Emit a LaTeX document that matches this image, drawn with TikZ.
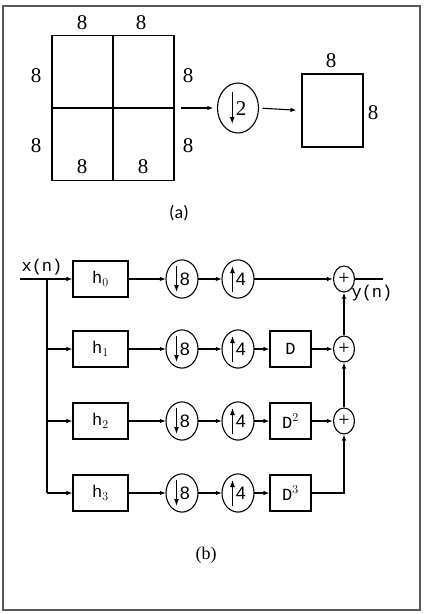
\documentclass[tikz,border=0pt]{standalone}
\usepackage{fontspec}
\setmainfont{Liberation Serif}
\setmonofont{Liberation Mono}
\newfontfamily\capfont{Carlito}
\newfontfamily\digfont{Liberation Sans}
\usetikzlibrary{arrows.meta,positioning,shapes.geometric}

% tall arrows inside the rate changers
\newcommand{\dnarr}[1]{\tikz[baseline=-0.34em]\draw[line width=1pt,-{Latex[length=7pt,width=5pt]}] (0pt,#1) -- (0pt,-#1);}
\newcommand{\uparr}[1]{\tikz[baseline=-0.34em]\draw[line width=1pt,-{Latex[length=7pt,width=5pt]}] (0pt,-#1) -- (0pt,#1);}

\begin{document}
\begin{tikzpicture}[
  x=1pt, y=-1pt,
  line width=1.1pt,
  >={Latex[length=6pt,width=4.5pt]},
  arr/.style={->},
  blk/.style={draw, rectangle, minimum width=55pt, minimum height=36pt, font=\fontsize{17}{17}\ttfamily},
  dblk/.style={draw, rectangle, minimum width=41pt, minimum height=36pt, font=\fontsize{17}{17}\ttfamily},
  rate/.style={draw, ellipse, minimum width=32pt, minimum height=37pt, inner sep=0pt, font=\fontsize{18}{18}\digfont},
  sumnode/.style={draw, ellipse, minimum width=21pt, minimum height=26pt, inner sep=0pt, font=\fontsize{20}{20}\selectfont},
  num/.style={font=\fontsize{21}{21}\selectfont},
  sig/.style={font=\fontsize{17}{17}\ttfamily},
]
\useasboundingbox (0,0) rectangle (424,614);
\fill[white] (0,0) rectangle (424,614);
\draw[black!65, line width=1.3pt] (3,6) rectangle (420,610);

% (a) block splitting
\node[draw, rectangle, minimum width=122pt, minimum height=145pt, inner sep=0pt] (blocks) at (113,108) {};
\draw (blocks.north) -- (blocks.south);
\draw (blocks.west) -- (blocks.east);
\node[draw, ellipse, minimum width=41pt, minimum height=50pt, inner sep=0pt, font=\fontsize{21}{21}\selectfont] (ds2) at (238,108) {\dnarr{16pt}\kern1pt 2};
\node[draw, rectangle, minimum width=61pt, minimum height=73pt, inner sep=0pt] (outblk) at (332.5,110.5) {};

\draw[arr, shorten <=6pt, shorten >=4pt] (blocks.east) -- (ds2.west);
\draw[arr, shorten <=4pt, shorten >=5pt] (ds2.east) -- (outblk.west);

\node[num] (ta) at (82,23) {8};
\node[num] (tb) at (141,23) {8};
\node[num] (la) at (36,76) {8};
\node[num] (lb) at (36,146) {8};
\node[num] (ra) at (188,76) {8};
\node[num] (rb) at (188,146) {8};
\node[num] (ba) at (82,167) {8};
\node[num] (bb) at (143,167) {8};
\node[num] (ot) at (331,61) {8};
\node[num] (or) at (373,113) {8};

\node[font=\fontsize{18}{18}\capfont] (capa) at (179,213) {(a)};

% (b) filter bank
\coordinate (xin) at (20,279);
\coordinate (br) at (47,279);
\coordinate (brend) at (47,493);
\coordinate (yout) at (383,279);

\node[blk] (h0) at (100.5,279) {h$_0$};
\node[blk] (h1) at (100.5,349) {h$_1$};
\node[blk] (h2) at (100.5,421) {h$_2$};
\node[blk] (h3) at (100.5,493) {h$_3$};

\node[rate] (dn0) at (182,279) {\dnarr{13pt}\kern1pt 8};
\node[rate] (dn1) at (182,349) {\dnarr{13pt}\kern1pt 8};
\node[rate] (dn2) at (182,421) {\dnarr{13pt}\kern1pt 8};
\node[rate] (dn3) at (182,493) {\dnarr{13pt}\kern1pt 8};

\node[rate] (up0) at (238,279) {\uparr{13pt}\kern1pt 4};
\node[rate] (up1) at (238,349) {\uparr{13pt}\kern1pt 4};
\node[rate] (up2) at (238,421) {\uparr{13pt}\kern1pt 4};
\node[rate] (up3) at (238,493) {\uparr{13pt}\kern1pt 4};

\node[dblk] (d1) at (290.5,349) {D};
\node[dblk] (d2) at (290.5,421) {D$^2$};
\node[dblk] (d3) at (290.5,493) {D$^3$};

\node[sumnode] (s0) at (344,279) {+};
\node[sumnode] (s1) at (344,349) {+};
\node[sumnode] (s2) at (344,421) {+};

\node[sig] (xlbl) at (42,267) {x(n)};
\node[sig] (ylbl) at (372,293) {y(n)};

\draw[arr] (xin) -- (h0.west);
\draw (br) -- (brend);
\draw[arr] (br |- h1) -- (h1.west);
\draw[arr] (br |- h2) -- (h2.west);
\draw[arr] (brend) -- (h3.west);

\draw[arr] (h0) -- (dn0);
\draw[arr] (h1) -- (dn1);
\draw[arr] (h2) -- (dn2);
\draw[arr] (h3) -- (dn3);

\draw[arr] (dn0) -- (up0);
\draw[arr] (dn1) -- (up1);
\draw[arr] (dn2) -- (up2);
\draw[arr] (dn3) -- (up3);

\draw[arr] (up0) -- (s0);
\draw[arr] (up1) -- (d1);
\draw[arr] (up2) -- (d2);
\draw[arr] (up3) -- (d3);

\draw[arr] (d1) -- (s1);
\draw[arr] (d2) -- (s2);
\draw[arr] (d3.east) -| (s2.south);
\draw[arr] (s2) -- (s1);
\draw[arr] (s1) -- (s0);
\draw (s0.east) -- (yout);

\node[font=\fontsize{18}{18}\selectfont] (capb) at (206,555) {(b)};
\end{tikzpicture}
\end{document}
